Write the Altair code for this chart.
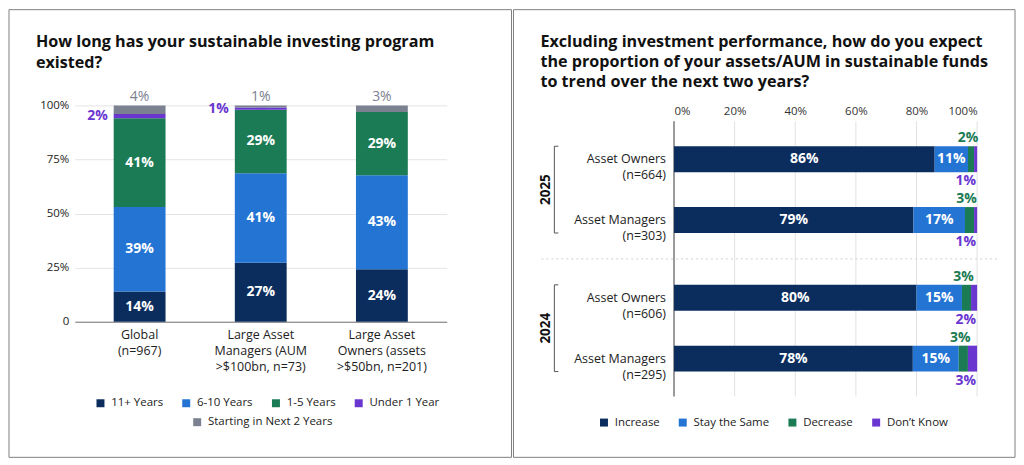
import altair as alt
import pandas as pd

FONT = "Open Sans"

# ---------------- data: left panel ----------------
left_title = ["How long has your sustainable investing program", "existed?"]
left_categories = ["Global|(n=967)",
                   "Large Asset|Managers (AUM|>$100bn, n=73)",
                   "Large Asset|Owners (assets|>$50bn, n=201)"]
left_series = ["11+ Years", "6-10 Years", "1-5 Years", "Under 1 Year", "Starting in Next 2 Years"]
left_colors = ["#0b2d5e", "#2374d3", "#1b7b55", "#6a36d0", "#7c8191"]
left_11plus = [14, 27, 24]
left_6to10 = [39, 41, 43]
left_1to5 = [41, 29, 29]
left_under1 = [2, 1, 0]
left_starting = [4, 1, 3]

# ---------------- data: right panel ----------------
right_title = ["Excluding investment performance, how do you expect",
               "the proportion of your assets/AUM in sustainable funds",
               "to trend over the next two years?"]
right_years = ["2025", "2025", "2024", "2024"]
right_groups = ["Asset Owners", "Asset Managers", "Asset Owners", "Asset Managers"]
right_n = ["(n=664)", "(n=303)", "(n=606)", "(n=295)"]
right_series = ["Increase", "Stay the Same", "Decrease", "Don\u2019t Know"]
right_colors = ["#0b2d5e", "#2374d3", "#1b7b55", "#6a36d0"]
right_increase = [86, 79, 80, 78]
right_same = [11, 17, 15, 15]
right_decrease = [2, 3, 3, 3]
right_dontknow = [1, 1, 2, 3]
right_ticks = [0, 0.2, 0.4, 0.6, 0.8, 1.0]

# ---------------- tables ----------------
rows = []
for si, (s, vals) in enumerate(zip(left_series, [left_11plus, left_6to10, left_1to5, left_under1, left_starting])):
    for c, v in zip(left_categories, vals):
        rows.append({"cat": c, "series": s, "value": v, "order": si})
df_l = pd.DataFrame(rows)

rows = []
for si, (s, vals) in enumerate(zip(right_series, [right_increase, right_same, right_decrease, right_dontknow])):
    for y, g, v in zip(right_years, right_groups, vals):
        rows.append({"year": y, "group": g, "trend": s, "value": v, "order": si})
df_r = pd.DataFrame(rows)
df_rl = pd.DataFrame({"year": right_years, "group": right_groups,
                      "lab": [g + "\n" + n for g, n in zip(right_groups, right_n)]})
df_years = pd.DataFrame({"year": list(dict.fromkeys(right_years))})
df_ticks = pd.DataFrame({"t": right_ticks})
one = pd.DataFrame({"a": [0]})

# ---------------- left panel ----------------
L_W, L_H = 373, 217
lx_scale = alt.Scale(domain=left_categories, paddingInner=0.572, paddingOuter=0.321)
lx_axis = alt.Axis(title=None, labelExpr="split(datum.label, '|')", labelAngle=0, labelFontSize=12.5,
                   labelColor="#222", labelPadding=7, labelLineHeight=16, labelBaseline="top",
                   domainColor="#777", ticks=False, grid=False)
ly_scale = alt.Scale(domain=[0, 1], nice=False)
ly_axis = alt.Axis(title=None, values=[0, 0.25, 0.5, 0.75, 1],
                   labelExpr="datum.value == 0 ? '0' : format(datum.value, '.0%')",
                   grid=True, gridColor="#e4e4e4", domain=False, ticks=False, labelPadding=6,
                   labelFontSize=11.5, labelColor="#222")


def LX(**kw):
    return alt.X("cat:N", scale=lx_scale, axis=lx_axis, **kw)


def LY(f):
    return alt.Y(f, scale=ly_scale, axis=ly_axis)


lbase = alt.Chart(df_l).transform_stack(
    stack="value", groupby=["cat"], as_=["y0", "y1"], offset="normalize",
    sort=[alt.SortField(field="order", order="ascending")]
).transform_calculate(mid="(datum.y0 + datum.y1) / 2", lbl="datum.value + '%'")

l_bars = lbase.mark_bar().encode(
    x=LX(), y=LY("y0:Q"), y2="y1:Q",
    color=alt.Color("series:N", scale=alt.Scale(domain=left_series, range=left_colors),
                    legend=alt.Legend(title=None, values=left_series[:4], orient="none", legendX=20, legendY=293,
                                      direction="horizontal", columns=4, gridAlign="none",
                                      symbolType="square", symbolSize=64, symbolStrokeWidth=0,
                                      labelFontSize=11.5, labelColor="#222", columnPadding=17, labelOffset=5)))
l_in = lbase.transform_filter("datum.order < 3").mark_text(
    color="white", fontWeight="bold", fontSize=14).encode(x=LX(), y=LY("mid:Q"), text="lbl:N")
l_pur = lbase.transform_filter("datum.order == 3 && datum.value > 0").mark_text(
    align="right", baseline="middle", dx=-6, fontSize=14, fontWeight="bold", color=left_colors[3]
).encode(x=LX(bandPosition=0), y=LY("mid:Q"), text="lbl:N")
l_lead = lbase.transform_filter("datum.order == 3 && datum.value > 0").mark_tick(
    color=left_colors[3], size=10, thickness=1.5).encode(x=LX(bandPosition=0), y=LY("mid:Q"))
l_gray = lbase.transform_filter("datum.order == 4").transform_calculate(series2="datum.series").mark_text(
    baseline="bottom", dy=-1, fontSize=14).encode(
    x=LX(), y=LY("y1:Q"), text="lbl:N",
    fill=alt.Fill("series2:N", scale=alt.Scale(domain=[left_series[4]], range=[left_colors[4]]),
                  legend=alt.Legend(title=None, orient="none", legendX=117, legendY=312,
                                    direction="horizontal", symbolType="square", symbolSize=64,
                                    symbolStrokeWidth=0, labelFontSize=11.5, labelColor="#222", labelOffset=5)))
l_title = alt.Chart(one).mark_text(align="left", baseline="alphabetic", fontSize=16.2, fontWeight="bold",
                                   color="#111", lineHeight=22).encode(
    x=alt.value(-39), y=alt.value(-59), text=alt.value(left_title))
l_border = alt.Chart(one).mark_rect(fillOpacity=0, stroke="#808080", strokeWidth=1).encode(
    x=alt.value(-66), x2=alt.value(438), y=alt.value(-96), y2=alt.value(353))

left = alt.layer(l_border, l_bars, l_in, l_pur, l_lead, l_gray, l_title).properties(width=L_W, height=L_H)

# ---------------- right panel ----------------
# plot area shares its top edge with the left panel; the grid starts GRID_TOP px lower
R_W, R_H = 304, 292
GRID_TOP = 16
Y_PI, Y_PO, Y_AL, O_PI = 0.374, 0.2374, 0.621, 0.574
step = R_H / (2 - Y_PI + 2 * Y_PO)
band = step * (1 - Y_PI)
outer = R_H - step * (2 - Y_PI)
sep_y = outer * Y_AL + band + (step - band) / 2

ry_scale = alt.Scale(domain=list(dict.fromkeys(right_years)), paddingInner=Y_PI, paddingOuter=Y_PO, align=Y_AL)
ry_axis = None
ro_scale = alt.Scale(domain=list(dict.fromkeys(right_groups)), paddingInner=O_PI, paddingOuter=0)
rx_scale = alt.Scale(domain=[0, 1], nice=False)
rx_axis = alt.Axis(orient="top", title=None, values=right_ticks, format=".0%", grid=False, offset=-GRID_TOP,
                   domain=False, ticks=False, labelPadding=5, labelFontSize=11.5, labelColor="#333")


def RY():
    return alt.Y("year:N", scale=ry_scale, axis=ry_axis)


def RO():
    return alt.YOffset("group:N", scale=ro_scale)


def RX(f):
    return alt.X(f, scale=rx_scale, axis=rx_axis)


rbase = alt.Chart(df_r).transform_stack(
    stack="value", groupby=["year", "group"], as_=["x0", "x1"], offset="normalize",
    sort=[alt.SortField(field="order", order="ascending")]
).transform_calculate(mid="(datum.x0 + datum.x1) / 2", lbl="datum.value + '%'")

r_grid = alt.Chart(df_ticks).mark_rule(color="#e2e2e2", strokeWidth=1).encode(
    x=RX("t:Q"), y=alt.value(GRID_TOP), y2=alt.value(R_H))
r_domain = alt.Chart(one).mark_rule(color="#9a9a9a", strokeWidth=2).encode(
    x=alt.value(0), y=alt.value(GRID_TOP), y2=alt.value(R_H))
r_bars = rbase.mark_bar().encode(
    x=RX("x0:Q"), x2="x1:Q", y=RY(), yOffset=RO(),
    color=alt.Color("trend:N", scale=alt.Scale(domain=right_series, range=right_colors),
                    legend=alt.Legend(title=None, orient="none", legendX=-76, legendY=312,
                                      direction="horizontal", symbolType="square", symbolSize=64,
                                      symbolStrokeWidth=0, labelFontSize=11.5, labelColor="#222",
                                      columnPadding=17, labelOffset=5)))
r_in = rbase.transform_filter("datum.order < 2").mark_text(
    color="white", fontWeight="bold", fontSize=14).encode(x=RX("mid:Q"), y=RY(), yOffset=RO(), text="lbl:N")
r_dec = rbase.transform_filter("datum.order == 2").mark_text(
    color=right_colors[2], fontWeight="bold", fontSize=14, dy=-21, dx=-3).encode(
    x=RX("mid:Q"), y=RY(), yOffset=RO(), text="lbl:N")
r_dk = rbase.transform_filter("datum.order == 3").mark_text(
    color=right_colors[3], fontWeight="bold", fontSize=14, dy=22, dx=-1, align="right").encode(
    x=RX("x1:Q"), y=RY(), yOffset=RO(), text="lbl:N")
r_grp = alt.Chart(df_rl).mark_text(align="right", baseline="middle", lineBreak="\n", fontSize=12.5,
                                   color="#222", lineHeight=16).encode(
    x=alt.value(-8), y=RY(), yOffset=RO(), text="lab:N")
r_year = alt.Chart(df_years).mark_text(angle=270, fontWeight="bold", fontSize=13.5, color="#111").encode(
    x=alt.value(-128), y=RY(), text="year:N")
r_brk = alt.Chart(df_years).mark_rect(fillOpacity=0, stroke="#555", strokeWidth=1,
                                      strokeDash=[4, band, 600]).encode(
    x=alt.value(-120), x2=alt.value(-116), y=RY())
r_sep = alt.Chart(one).mark_rule(color="#cfcfcf", strokeDash=[2, 3], strokeWidth=1).encode(
    x=alt.value(-133), x2=alt.value(327), y=alt.value(sep_y))
r_title = alt.Chart(one).mark_text(align="left", baseline="alphabetic", fontSize=16.2, fontWeight="bold",
                                   color="#111", lineHeight=20.5).encode(
    x=alt.value(-134), y=alt.value(-59), text=alt.value(right_title))
r_border = alt.Chart(one).mark_rect(fillOpacity=0, stroke="#808080", strokeWidth=1).encode(
    x=alt.value(-161), x2=alt.value(342), y=alt.value(-96), y2=alt.value(353))

right = alt.layer(r_border, r_grid, r_sep, r_domain, r_bars, r_in, r_dec, r_dk, r_grp, r_year, r_brk,
                  r_title).properties(width=R_W, height=R_H)

chart = alt.hconcat(left, right, spacing=0).resolve_scale(
    color="independent").resolve_legend(color="independent").properties(padding=0).configure(
    font=FONT).configure_view(stroke=None)

chart.save("out.html", embed_options={"renderer": "svg", "actions": False})
